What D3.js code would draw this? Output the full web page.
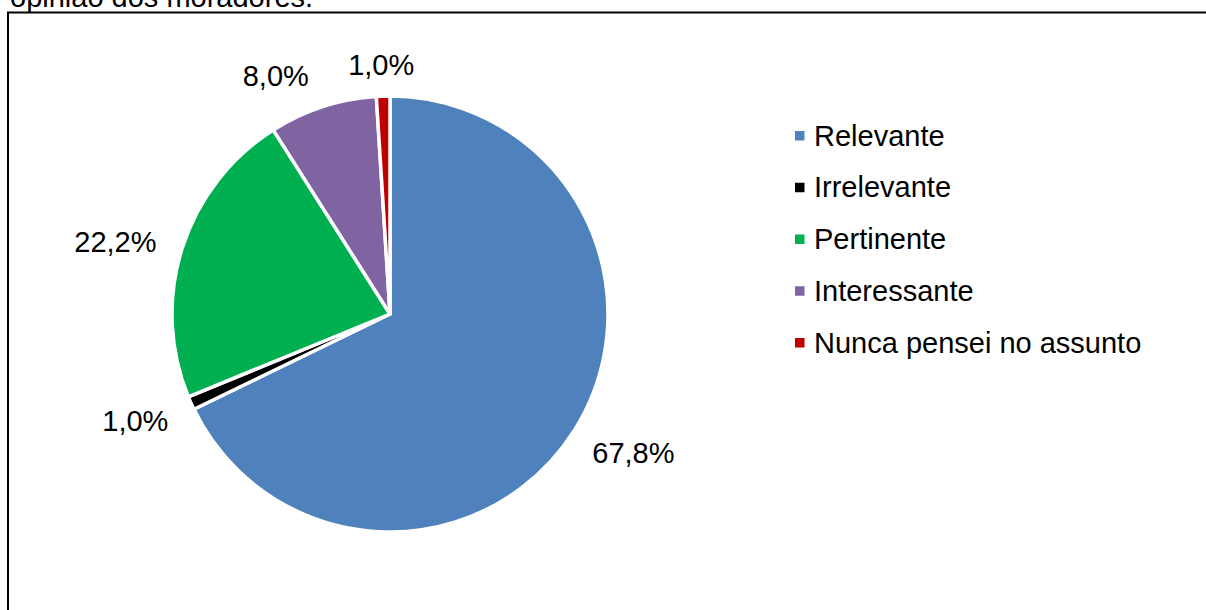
<!DOCTYPE html>
<html>
<head>
<meta charset="utf-8">
<script src="https://cdn.jsdelivr.net/npm/d3@7"></script>
<style>
  html, body { margin: 0; padding: 0; background: #fff; }
  svg { display: block; }
  text { font-family: "Liberation Sans", Arial, sans-serif; fill: #000; }
</style>
</head>
<body>
<svg id="chart" width="1206" height="610"></svg>
<script>
// Opinião dos moradores — share of answers per category
const categories = ["Relevante", "Irrelevante", "Pertinente", "Interessante", "Nunca pensei no assunto"];
const shares = [67.8, 1.0, 22.2, 8.0, 1.0];
const labels = ["67,8%", "1,0%", "22,2%", "8,0%", "1,0%"];
const colors = ["#4F81BD", "#000000", "#00B050", "#8064A2", "#C00000"];

const W = 1206, H = 610;
const svg = d3.select("#chart");
const fontSize = 29;

// Caption line above the frame (runs off the top edge)
svg.append("text")
  .attr("x", 10).attr("y", 7)
  .style("font-size", fontSize + "px")
  .text("opinião dos moradores.");

// Chart frame (open to the right and bottom)
svg.append("rect")
  .attr("x", 8).attr("y", 12.5)
  .attr("width", W + 20).attr("height", H + 20)
  .attr("fill", "#fff")
  .attr("stroke", "#000").attr("stroke-width", 2);

const cx = 390, cy = 314, radius = 218;
const data = categories.map((c, i) => ({ cat: c, value: shares[i], label: labels[i], color: colors[i] }));

const pie = d3.pie().value(d => d.value).sort(null);
const arc = d3.arc().innerRadius(0).outerRadius(radius);
const arcs = pie(data);

const g = svg.append("g").attr("transform", `translate(${cx},${cy})`);

g.selectAll("path.slice")
  .data(arcs)
  .join("path")
  .attr("class", "slice")
  .attr("d", arc)
  .attr("fill", d => d.data.color)
  .attr("stroke", "#fff")
  .attr("stroke-width", 3.5)
  .attr("stroke-linejoin", "round");

// Outside-end data labels: box pushed outward from the rim along the mid angle
const labelRadius = radius + 28;
const labelNudge = { "Pertinente": [-1, 7], "Interessante": [-28, 10], "Nunca pensei no assunto": [0, 12] };

const lbl = g.selectAll("text.lbl")
  .data(arcs)
  .join("text")
  .attr("class", "lbl")
  .attr("text-anchor", "middle")
  .attr("dy", "0.35em")
  .style("font-size", fontSize + "px")
  .text(d => d.data.label);

lbl.each(function (d) {
  const a = (d.startAngle + d.endAngle) / 2;
  const s = Math.sin(a), c = Math.cos(a);
  const bb = this.getBBox();
  const hw = bb.width / 2, hh = 15;
  const n = labelNudge[d.data.cat] || [0, 0];
  const x = labelRadius * s + s * hw + n[0];
  const y = -labelRadius * c - c * hh + n[1];
  d3.select(this).attr("x", x).attr("y", y);
});

// Legend
const legY = d3.scalePoint().domain(categories).range([135.5, 342.5]);
const leg = svg.append("g");
const rows = leg.selectAll("g.row")
  .data(data)
  .join("g")
  .attr("class", "row")
  .attr("transform", d => `translate(0,${legY(d.cat)})`);

rows.append("rect")
  .attr("x", 795).attr("y", -4.5)
  .attr("width", 9.5).attr("height", 9.5)
  .attr("fill", d => d.color);

rows.append("text")
  .attr("x", 814).attr("dy", "0.35em")
  .style("font-size", fontSize + "px")
  .text(d => d.cat);
</script>
</body>
</html>
